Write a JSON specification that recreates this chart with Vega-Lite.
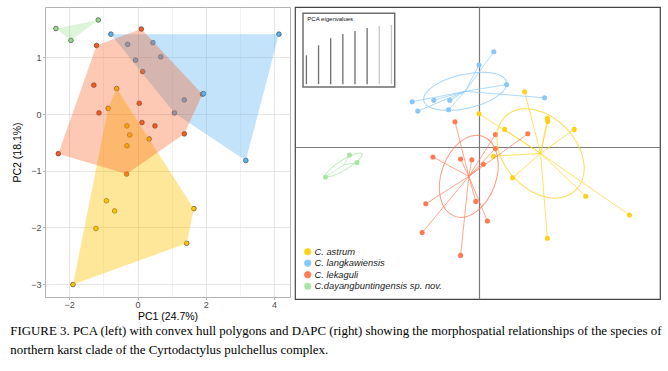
{
  "$schema": "https://vega.github.io/schema/vega-lite/v6.json",
  "padding": {"left": 10, "top": 6, "right": 2, "bottom": 2},
  "background": "white",
  "datasets": {
    "pca": [
      {"species": "C. astrum", "pc1": -0.61, "pc2": 0.45, "hull": 1},
      {"species": "C. astrum", "pc1": -0.86, "pc2": 0.10, "hull": 5},
      {"species": "C. astrum", "pc1": -0.31, "pc2": -0.21},
      {"species": "C. astrum", "pc1": -0.23, "pc2": -0.37},
      {"species": "C. astrum", "pc1": -0.31, "pc2": -0.56},
      {"species": "C. astrum", "pc1": 0.34, "pc2": -0.44},
      {"species": "C. astrum", "pc1": -0.91, "pc2": -1.53},
      {"species": "C. astrum", "pc1": -0.67, "pc2": -1.71},
      {"species": "C. astrum", "pc1": -1.22, "pc2": -2.02},
      {"species": "C. astrum", "pc1": 1.65, "pc2": -1.67, "hull": 2},
      {"species": "C. astrum", "pc1": 1.44, "pc2": -2.28, "hull": 3},
      {"species": "C. astrum", "pc1": -1.89, "pc2": -3.01, "hull": 4},
      {"species": "C. langkawiensis", "pc1": -0.78, "pc2": 1.41, "hull": 1},
      {"species": "C. langkawiensis", "pc1": 4.14, "pc2": 1.41, "hull": 2},
      {"species": "C. langkawiensis", "pc1": 3.17, "pc2": -0.82, "hull": 3},
      {"species": "C. langkawiensis", "pc1": 1.08, "pc2": 0.02, "hull": 4},
      {"species": "C. langkawiensis", "pc1": -0.29, "pc2": 1.23},
      {"species": "C. langkawiensis", "pc1": 0.45, "pc2": 1.26},
      {"species": "C. langkawiensis", "pc1": -0.06, "pc2": 0.95},
      {"species": "C. langkawiensis", "pc1": 0.68, "pc2": 1.01},
      {"species": "C. langkawiensis", "pc1": 1.37, "pc2": 0.25},
      {"species": "C. lekaguli", "pc1": -1.20, "pc2": 1.21, "hull": 1},
      {"species": "C. lekaguli", "pc1": 0.11, "pc2": 1.50, "hull": 2},
      {"species": "C. lekaguli", "pc1": 1.90, "pc2": 0.35, "hull": 3},
      {"species": "C. lekaguli", "pc1": 1.37, "pc2": -0.35, "hull": 4},
      {"species": "C. lekaguli", "pc1": -0.32, "pc2": -1.06, "hull": 5},
      {"species": "C. lekaguli", "pc1": -2.32, "pc2": -0.70, "hull": 6},
      {"species": "C. lekaguli", "pc1": 0.15, "pc2": 0.75},
      {"species": "C. lekaguli", "pc1": -1.28, "pc2": 0.51},
      {"species": "C. lekaguli", "pc1": 0.05, "pc2": 0.19},
      {"species": "C. lekaguli", "pc1": -1.13, "pc2": 0.02},
      {"species": "C. lekaguli", "pc1": 0.13, "pc2": -0.15},
      {"species": "C. lekaguli", "pc1": 0.51, "pc2": -0.21},
      {"species": "C. langkawiensis", "pc1": 1.93, "pc2": 0.36},
      {"species": "C.dayangbuntingensis sp. nov.", "pc1": -2.39, "pc2": 1.51, "hull": 1},
      {"species": "C.dayangbuntingensis sp. nov.", "pc1": -1.15, "pc2": 1.66, "hull": 2},
      {"species": "C.dayangbuntingensis sp. nov.", "pc1": -1.95, "pc2": 1.30, "hull": 3}
    ],
    "dapc": [
      {"species": "C. astrum", "ld1": 1.14, "ld2": 1.38},
      {"species": "C. astrum", "ld1": 0.00, "ld2": 0.83},
      {"species": "C. astrum", "ld1": 1.71, "ld2": 0.72},
      {"species": "C. astrum", "ld1": 1.72, "ld2": 0.64},
      {"species": "C. astrum", "ld1": 0.64, "ld2": 0.44},
      {"species": "C. astrum", "ld1": 2.38, "ld2": 0.44},
      {"species": "C. astrum", "ld1": 0.36, "ld2": -0.23},
      {"species": "C. astrum", "ld1": 0.84, "ld2": -0.77},
      {"species": "C. astrum", "ld1": 2.67, "ld2": -1.23},
      {"species": "C. astrum", "ld1": 3.76, "ld2": -1.70},
      {"species": "C. astrum", "ld1": 1.71, "ld2": -2.28},
      {"species": "C. langkawiensis", "ld1": 0.37, "ld2": 2.38},
      {"species": "C. langkawiensis", "ld1": 0.00, "ld2": 2.05},
      {"species": "C. langkawiensis", "ld1": 0.69, "ld2": 1.56},
      {"species": "C. langkawiensis", "ld1": 1.64, "ld2": 1.23},
      {"species": "C. langkawiensis", "ld1": -1.67, "ld2": 1.13},
      {"species": "C. langkawiensis", "ld1": -1.13, "ld2": 1.17},
      {"species": "C. langkawiensis", "ld1": -0.73, "ld2": 1.17},
      {"species": "C. langkawiensis", "ld1": -1.53, "ld2": 0.90},
      {"species": "C. langkawiensis", "ld1": -0.76, "ld2": 0.93},
      {"species": "C. lekaguli", "ld1": -0.60, "ld2": 0.63},
      {"species": "C. lekaguli", "ld1": 0.41, "ld2": 0.31},
      {"species": "C. lekaguli", "ld1": 1.22, "ld2": 0.33},
      {"species": "C. lekaguli", "ld1": 0.41, "ld2": -0.04},
      {"species": "C. lekaguli", "ld1": -1.15, "ld2": -0.25},
      {"species": "C. lekaguli", "ld1": -0.46, "ld2": -0.30},
      {"species": "C. lekaguli", "ld1": -0.18, "ld2": -0.32},
      {"species": "C. lekaguli", "ld1": 0.11, "ld2": -0.43},
      {"species": "C. lekaguli", "ld1": -0.08, "ld2": -1.36},
      {"species": "C. lekaguli", "ld1": -1.33, "ld2": -1.42},
      {"species": "C. lekaguli", "ld1": 0.21, "ld2": -1.85},
      {"species": "C. lekaguli", "ld1": -1.42, "ld2": -2.14},
      {"species": "C. lekaguli", "ld1": -0.46, "ld2": -2.71},
      {"species": "C.dayangbuntingensis sp. nov.", "ld1": -3.24, "ld2": -0.20},
      {"species": "C.dayangbuntingensis sp. nov.", "ld1": -3.05, "ld2": -0.39},
      {"species": "C.dayangbuntingensis sp. nov.", "ld1": -3.84, "ld2": -0.75}
    ],
    "eigen": [
      {"pc": 1, "eig": 25.2},
      {"pc": 2, "eig": 34.0},
      {"pc": 3, "eig": 40.1},
      {"pc": 4, "eig": 43.9},
      {"pc": 5, "eig": 46.5},
      {"pc": 6, "eig": 49.1},
      {"pc": 7, "eig": 50.9},
      {"pc": 8, "eig": 51.8}
    ]
  },
  "title": {
    "text": [
      "FIGURE 3. PCA (left) with convex hull polygons and DAPC (right) showing the morphospatial relationships of the species of",
      "northern karst clade of the Cyrtodactylus pulchellus complex."
    ],
    "orient": "bottom",
    "anchor": "start",
    "frame": "bounds",
    "font": "Liberation Serif",
    "fontSize": 12.9,
    "fontWeight": "normal",
    "color": "#000000",
    "lineHeight": 19,
    "offset": 2,
    "dx": -2
  },
  "spacing": 3,
  "resolve": {
    "scale": {"color": "independent", "fill": "independent"},
    "legend": {"color": "independent", "fill": "independent"}
  },
  "hconcat": [
    {
      "width": 245,
      "height": 290,
      "view": {"stroke": "#B3B3B3", "strokeWidth": 1},
      "data": {"name": "pca"},
      "encoding": {
        "x": {
          "field": "pc1", "type": "quantitative",
          "scale": {"domain": [-2.71, 4.465], "nice": false, "zero": false},
          "axis": {
            "title": "PC1 (24.7%)",
            "values": [-2, -1, 0, 1, 2, 3, 4],
            "format": "d",
            "labelExpr": "datum.value % 2 === 0 ? datum.label : ''",
            "grid": true,
            "gridColor": "#DEDEDE",
            "gridWidth": {"condition": {"test": "datum.value % 2 === 0", "value": 0.8}, "value": 0.4},
            "tickOpacity": {"condition": {"test": "datum.value % 2 === 0", "value": 1}, "value": 0},
            "tickColor": "#B3B3B3",
            "tickSize": 2.5,
            "domain": false,
            "labelFont": "Liberation Sans",
            "labelColor": "#4D4D4D",
            "labelFontSize": 9,
            "labelPadding": 1,
            "labelFlush": false,
            "titleFont": "Liberation Sans",
            "titleFontSize": 10.5,
            "titleFontWeight": "normal",
            "titleColor": "#000000",
            "titlePadding": 2
          }
        },
        "y": {
          "field": "pc2", "type": "quantitative",
          "scale": {"domain": [-3.229, 1.889], "nice": false, "zero": false},
          "axis": {
            "title": "PC2 (18.1%)",
            "values": [-3, -2.5, -2, -1.5, -1, -0.5, 0, 0.5, 1, 1.5],
            "format": "d",
            "labelExpr": "datum.value % 1 === 0 ? datum.label : ''",
            "grid": true,
            "gridColor": "#DEDEDE",
            "gridWidth": {"condition": {"test": "datum.value % 1 === 0", "value": 0.8}, "value": 0.4},
            "tickOpacity": {"condition": {"test": "datum.value % 1 === 0", "value": 1}, "value": 0},
            "tickColor": "#B3B3B3",
            "tickSize": 2.5,
            "domain": false,
            "labelFont": "Liberation Sans",
            "labelColor": "#4D4D4D",
            "labelFontSize": 9,
            "labelPadding": 1.5,
            "labelFlush": false,
            "titleFont": "Liberation Sans",
            "titleFontSize": 10.5,
            "titleFontWeight": "normal",
            "titleColor": "#000000",
            "titlePadding": 8
          }
        }
      },
      "layer": [
        {
          "mark": {"type": "circle", "size": 22, "opacity": 1, "stroke": "#333333", "strokeWidth": 0.6},
          "encoding": {
            "fill": {
              "field": "species", "type": "nominal",
              "scale": {
                "domain": ["C. astrum", "C. langkawiensis", "C. lekaguli", "C.dayangbuntingensis sp. nov."],
                "range": ["#FFC400", "#5AB3F2", "#FA5A1E", "#90DC85"]
              },
              "legend": null
            }
          }
        },
        {
          "transform": [{"filter": "isValid(datum.hull)"}],
          "mark": {"type": "line", "interpolate": "linear-closed", "strokeWidth": 0, "strokeOpacity": 0},
          "encoding": {
            "order": {"field": "hull", "type": "quantitative"},
            "detail": {"field": "species", "type": "nominal"},
            "fill": {"field": "species", "type": "nominal", "legend": null},
            "fillOpacity": {
              "field": "species", "type": "nominal",
              "scale": {
                "domain": ["C. astrum", "C. langkawiensis", "C. lekaguli", "C.dayangbuntingensis sp. nov."],
                "range": [0.4, 0.3, 0.3, 0.3]
              },
              "legend": null
            }
          }
        }
      ]
    },
    {
      "width": 365,
      "height": 292,
      "view": {"stroke": "#444444", "strokeWidth": 1.2},
      "resolve": {"scale": {"x": "independent", "y": "independent"}},
      "layer": [
        {
          "data": {"name": "dapc"},
          "encoding": {
            "x": {
              "field": "ld1", "type": "quantitative",
              "scale": {"domain": [-4.6, 4.525], "nice": false, "zero": false},
              "axis": {"values": [0], "grid": true, "gridColor": "#7A7A7A", "gridWidth": 1.2, "labels": false, "ticks": false, "domain": false, "title": null}
            },
            "y": {
              "field": "ld2", "type": "quantitative",
              "scale": {"domain": [-3.8, 3.5], "nice": false, "zero": false},
              "axis": {"values": [0], "grid": true, "gridColor": "#7A7A7A", "gridWidth": 1.2, "labels": false, "ticks": false, "domain": false, "title": null}
            }
          },
          "layer": [
            {
              "mark": {"type": "circle", "size": 26, "opacity": 1},
              "encoding": {
                "color": {
                  "field": "species", "type": "nominal",
                  "scale": {
                    "domain": ["C. astrum", "C. langkawiensis", "C. lekaguli", "C.dayangbuntingensis sp. nov."],
                    "range": ["#FFD21A", "#88C8F8", "#FF7A55", "#A9E5A5"]
                  },
                  "legend": {
                    "orient": "bottom-left",
                    "offset": 8,
                    "title": null,
                    "padding": 0,
                    "symbolType": "circle",
                    "symbolSize": 42,
                    "symbolStrokeColor": "#666666",
                    "symbolStrokeWidth": 0.7,
                    "labelFont": "Liberation Sans",
                    "labelFontSize": 9.4,
                    "labelFontStyle": "italic",
                    "labelColor": "#222222",
                    "labelOffset": 2,
                    "rowPadding": 0.5,
                    "labelLimit": 300
                  }
                }
              }
            },
            {
              "transform": [
                {"filter": "datum.species === 'C. astrum'"},
                {"aggregate": [{"op": "mean", "field": "ld1", "as": "ld1"}, {"op": "mean", "field": "ld2", "as": "ld2"}], "groupby": ["species"]}
              ],
              "mark": {"type": "point", "filled": false, "shape": "M1,0 C1,0.39 0.5523,0.706 0,0.706 C-0.5523,0.706 -1,0.39 -1,0 C-1,-0.39 -0.5523,-0.706 0,-0.706 C0.5523,-0.706 1,-0.39 1,0 Z", "size": 10404, "angle": 47, "strokeWidth": 1, "opacity": 0.75},
              "encoding": {"color": {"field": "species", "type": "nominal"}}
            },
            {
              "transform": [
                {"filter": "datum.species === 'C. langkawiensis'"},
                {"aggregate": [{"op": "mean", "field": "ld1", "as": "ld1"}, {"op": "mean", "field": "ld2", "as": "ld2"}], "groupby": ["species"]}
              ],
              "mark": {"type": "point", "filled": false, "shape": "M1,0 C1,0.2209 0.5523,0.4 0,0.4 C-0.5523,0.4 -1,0.2209 -1,0 C-1,-0.2209 -0.5523,-0.4 0,-0.4 C0.5523,-0.4 1,-0.2209 1,0 Z", "size": 7225, "angle": 347, "strokeWidth": 1, "opacity": 0.75},
              "encoding": {"color": {"field": "species", "type": "nominal"}}
            },
            {
              "transform": [
                {"filter": "datum.species === 'C. lekaguli'"},
                {"aggregate": [{"op": "mean", "field": "ld1", "as": "ld1"}, {"op": "mean", "field": "ld2", "as": "ld2"}], "groupby": ["species"]}
              ],
              "mark": {"type": "point", "filled": false, "shape": "M1,0 C1,0.3568 0.5523,0.646 0,0.646 C-0.5523,0.646 -1,0.3568 -1,0 C-1,-0.3568 -0.5523,-0.646 0,-0.646 C0.5523,-0.646 1,-0.3568 1,0 Z", "size": 7191, "angle": 289.5, "strokeWidth": 1, "opacity": 0.75},
              "encoding": {"color": {"field": "species", "type": "nominal"}}
            },
            {
              "transform": [
                {"filter": "datum.species === 'C.dayangbuntingensis sp. nov.'"},
                {"aggregate": [{"op": "mean", "field": "ld1", "as": "ld1"}, {"op": "mean", "field": "ld2", "as": "ld2"}], "groupby": ["species"]}
              ],
              "mark": {"type": "point", "filled": false, "shape": "M1,0 C1,0.1314 0.5523,0.238 0,0.238 C-0.5523,0.238 -1,0.1314 -1,0 C-1,-0.1314 -0.5523,-0.238 0,-0.238 C0.5523,-0.238 1,-0.1314 1,0 Z", "size": 1764, "angle": 328, "strokeWidth": 1, "opacity": 0.75},
              "encoding": {"color": {"field": "species", "type": "nominal"}}
            },
            {
              "transform": [
                {"joinaggregate": [{"op": "mean", "field": "ld1", "as": "cx"}, {"op": "mean", "field": "ld2", "as": "cy"}], "groupby": ["species"]}
              ],
              "mark": {"type": "rule", "strokeWidth": 0.9, "opacity": 0.75},
              "encoding": {
                "x2": {"field": "cx"},
                "y2": {"field": "cy"},
                "color": {"field": "species", "type": "nominal"}
              }
            }
          ]
        },
        {
          "layer": [
            {
              "data": {"values": [{"frame": "inset"}]},
              "mark": {"type": "rect", "fill": "white", "stroke": "#6E6E6E", "strokeWidth": 1.5},
              "encoding": {
                "x": {"datum": 0.72, "type": "quantitative", "scale": {"domain": [0.72, 8.27], "range": [8, 99.7], "nice": false, "zero": false}, "axis": null},
                "x2": {"datum": 8.27},
                "y": {"datum": -2.5, "type": "quantitative", "scale": {"domain": [-2.5, 62], "range": [80, 6.3], "nice": false, "zero": false}, "axis": null},
                "y2": {"datum": 62}
              }
            },
            {
              "data": {"name": "eigen"},
              "mark": {"type": "rule", "strokeWidth": 1.3},
              "encoding": {
                "x": {"field": "pc", "type": "quantitative", "scale": {"domain": [0.72, 8.27], "range": [8, 99.7], "nice": false, "zero": false}, "axis": null},
                "y": {"field": "eig", "type": "quantitative", "scale": {"domain": [-2.5, 62], "range": [80, 6.3], "nice": false, "zero": false}, "axis": null},
                "y2": {"datum": 0},
                "color": {"condition": {"test": "datum.pc <= 6", "value": "#6E6E6E"}, "value": "#C8C8C8"}
              }
            },
            {
              "data": {"values": [{"label": "PCA eigenvalues"}]},
              "mark": {"type": "text", "align": "left", "baseline": "middle", "font": "Liberation Sans", "fontSize": 6, "color": "#111111"},
              "encoding": {
                "text": {"field": "label"},
                "x": {"datum": 1.08, "type": "quantitative", "scale": {"domain": [0.72, 8.27], "range": [8, 99.7], "nice": false, "zero": false}, "axis": null},
                "y": {"datum": 56.75, "type": "quantitative", "scale": {"domain": [-2.5, 62], "range": [80, 6.3], "nice": false, "zero": false}, "axis": null}
              }
            }
          ]
        }
      ]
    }
  ],
  "config": {
    "font": "Liberation Sans"
  }
}
